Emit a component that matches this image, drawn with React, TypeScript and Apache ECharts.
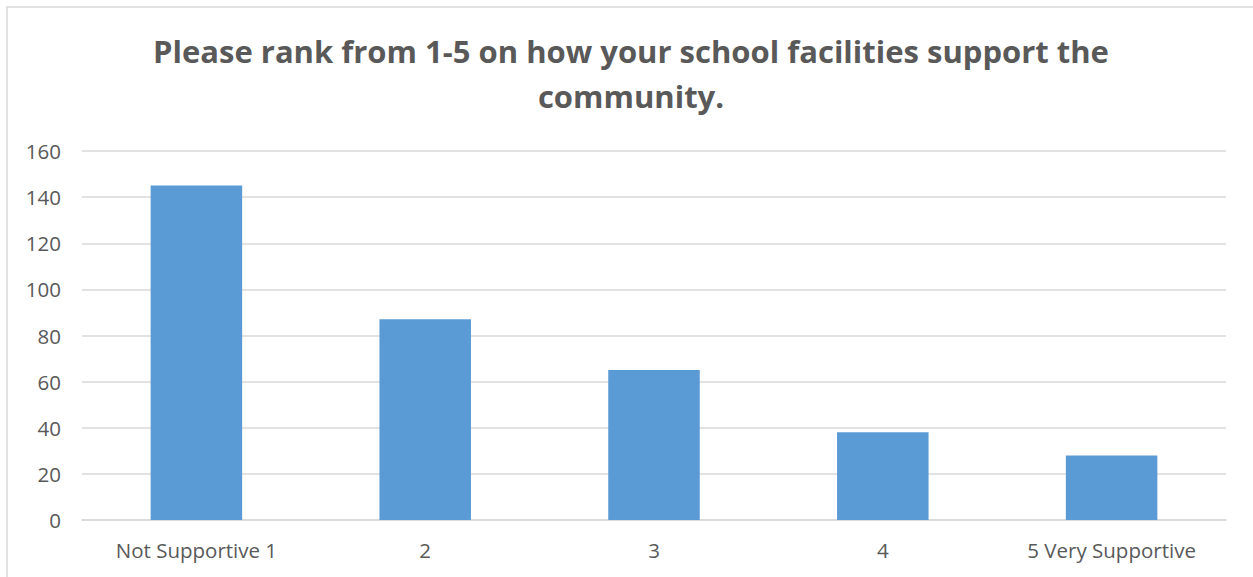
import React, { useEffect, useRef } from "react";
import * as echarts from "echarts";

const categories = ["Not Supportive 1", "2", "3", "4", "5 Very Supportive"];
const values = [145, 87, 65, 38, 28];
const titleText = "Please rank from 1-5 on how your school facilities support the\ncommunity.";

export default function App() {
  const ref = useRef<HTMLDivElement>(null);
  useEffect(() => {
    document.body.style.margin = "0";
    const chart = echarts.init(ref.current!, null, { renderer: "svg" });
    chart.setOption({
      animation: false,
      backgroundColor: "#ffffff",
      graphic: [
        {
          type: "rect",
          shape: { x: 7, y: 7, width: 1300, height: 600 },
          style: { fill: "none", stroke: "#d9d9d9", lineWidth: 1.5 },
          silent: true,
        },
        {
          type: "text",
          x: 631,
          y: 28,
          silent: true,
          style: {
            text: titleText,
            align: "center",
            verticalAlign: "top",
            fontFamily: "'Open Sans', sans-serif",
            fontSize: 31,
            fontWeight: "bold",
            fill: "#595959",
            lineHeight: 45,
          },
        },
      ],
      grid: { left: 82, right: 27, top: 151, bottom: 57, containLabel: false },
      xAxis: {
        type: "category",
        data: categories,
        axisLine: { lineStyle: { color: "#d9d9d9", width: 1.5 } },
        axisTick: { show: false },
        axisLabel: {
          color: "#595959",
          fontSize: 20.5,
          fontFamily: "'Open Sans', sans-serif",
          margin: 19,
        },
      },
      yAxis: {
        type: "value",
        min: 0,
        max: 160,
        interval: 20,
        axisLine: { show: false },
        axisTick: { show: false },
        splitLine: { lineStyle: { color: "#d9d9d9", width: 1.5 } },
        axisLabel: {
          color: "#595959",
          fontSize: 20.5,
          fontFamily: "'Open Sans', sans-serif",
          margin: 21,
        },
      },
      series: [
        {
          type: "bar",
          data: values,
          barWidth: "40%",
          itemStyle: { color: "#5b9bd5" },
        },
      ],
    });
    return () => chart.dispose();
  }, []);
  return <div ref={ref} style={{ width: 1253, height: 577 }} />;
}
